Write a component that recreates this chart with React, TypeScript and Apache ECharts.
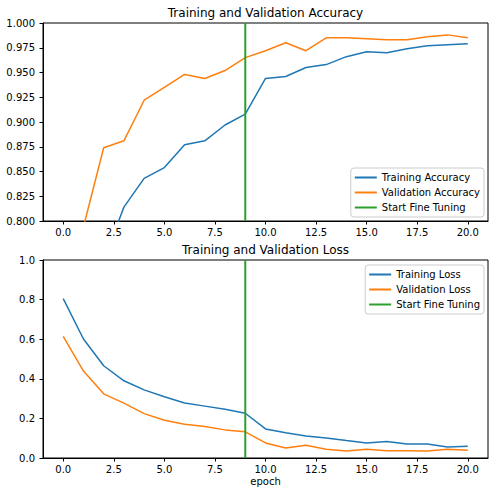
import React, { useEffect, useRef } from "react";
import * as echarts from "echarts";

const epochs = [0, 1, 2, 3, 4, 5, 6, 7, 8, 9, 10, 11, 12, 13, 14, 15, 16, 17, 18, 19, 20];
const trainAcc = [0.6, 0.71, 0.76, 0.814, 0.843, 0.854, 0.877, 0.881, 0.897, 0.908, 0.944, 0.946, 0.955, 0.958, 0.966, 0.971, 0.970, 0.974, 0.977, 0.978, 0.979];
const valAcc = [0.69, 0.794, 0.874, 0.881, 0.922, 0.935, 0.948, 0.944, 0.952, 0.965, 0.972, 0.980, 0.972, 0.985, 0.985, 0.984, 0.983, 0.983, 0.986, 0.988, 0.985];
const trainLoss = [0.805, 0.601, 0.466, 0.39, 0.344, 0.309, 0.278, 0.262, 0.246, 0.226, 0.147, 0.128, 0.111, 0.101, 0.088, 0.076, 0.083, 0.071, 0.071, 0.056, 0.059];
const valLoss = [0.614, 0.439, 0.324, 0.277, 0.224, 0.191, 0.17, 0.159, 0.142, 0.132, 0.076, 0.051, 0.064, 0.044, 0.035, 0.044, 0.037, 0.037, 0.035, 0.044, 0.039];
const fineTuneEpoch = 9;
const accRange = [0.8, 1.0];
const lossRange = [0, 1.0];
const xTicks = [0, 2.5, 5, 7.5, 10, 12.5, 15, 17.5, 20];
const titles = ["Training and Validation Accuracy", "Training and Validation Loss"];
const accNames = ["Training Accuracy", "Validation Accuracy", "Start Fine Tuning"];
const lossNames = ["Training Loss", "Validation Loss", "Start Fine Tuning"];
const xLabel = "epoch";

const FONT = "DejaVu Sans";
const BLUE = "#1f77b4";
const ORANGE = "#ff7f0e";
const GREEN = "#2ca02c";

const pairs = (ys: number[]) => epochs.map((e, i) => [e, ys[i]]);

function xAxisCfg(gridIndex: number) {
  return {
    type: "value",
    gridIndex,
    min: -1,
    max: 21,
    axisLine: { show: true, onZero: false, lineStyle: { color: "#000", width: 1 } },
    axisTick: { show: true, length: 3.5, lineStyle: { color: "#000", width: 1 }, customValues: xTicks },
    axisLabel: {
      customValues: xTicks,
      formatter: (v: number) => v.toFixed(1),
      color: "#000",
      fontSize: 10,
      fontFamily: FONT,
      margin: 6,
    },
    splitLine: { show: false },
  };
}

function yAxisCfg(gridIndex: number, range: number[], interval: number, digits: number) {
  return {
    type: "value",
    gridIndex,
    min: range[0],
    max: range[1],
    interval,
    axisLine: { show: true, onZero: false, lineStyle: { color: "#000", width: 1 } },
    axisTick: { show: true, length: 3.5, lineStyle: { color: "#000", width: 1 } },
    axisLabel: {
      formatter: (v: number) => v.toFixed(digits),
      color: "#000",
      fontSize: 10,
      fontFamily: FONT,
      margin: 8,
    },
    splitLine: { show: false },
  };
}

function lineSeries(name: string, data: number[][], color: string, idx: number, width = 1.5) {
  return {
    type: "line",
    name,
    xAxisIndex: idx,
    yAxisIndex: idx,
    data,
    color,
    symbol: "none",
    clip: true,
    lineStyle: { width, color },
  };
}

function legendCfg(names: string[], top: number) {
  return {
    data: names,
    orient: "vertical",
    right: 12,
    top,
    icon: "rect",
    itemWidth: 22,
    itemHeight: 2,
    itemGap: 0,
    itemTextGap: 8,
    padding: [2, 4, 2, 4],
    backgroundColor: "rgba(255,255,255,0.8)",
    borderColor: "#cccccc",
    borderWidth: 1,
    borderRadius: 3,
    textStyle: { color: "#000", fontSize: 10, fontFamily: FONT, lineHeight: 15 },
    selectedMode: false,
  };
}

export default function App() {
  const ref = useRef<HTMLDivElement>(null);
  useEffect(() => {
    if (!ref.current) return;
    const chart = echarts.init(ref.current, null, { renderer: "svg" });
    chart.setOption({
      animation: false,
      backgroundColor: "#fff",
      grid: [
        { left: 43, top: 23, width: 445, height: 198, show: true, borderColor: "#000", borderWidth: 1 },
        { left: 43, top: 260, width: 445, height: 198, show: true, borderColor: "#000", borderWidth: 1 },
      ],
      xAxis: [xAxisCfg(0), xAxisCfg(1)],
      yAxis: [yAxisCfg(0, accRange, 0.025, 3), yAxisCfg(1, lossRange, 0.2, 1)],
      legend: [legendCfg(accNames, 168), legendCfg(lossNames, 265)],
      series: [
        lineSeries(accNames[0], pairs(trainAcc), BLUE, 0),
        lineSeries(accNames[1], pairs(valAcc), ORANGE, 0),
        lineSeries(accNames[2], [[fineTuneEpoch, accRange[0]], [fineTuneEpoch, accRange[1]]], GREEN, 0, 2),
        lineSeries(lossNames[0], pairs(trainLoss), BLUE, 1),
        lineSeries(lossNames[1], pairs(valLoss), ORANGE, 1),
        lineSeries(lossNames[2], [[fineTuneEpoch, lossRange[0]], [fineTuneEpoch, lossRange[1]]], GREEN, 1, 2),
      ],
      graphic: [
        {
          type: "text",
          x: 265.5,
          y: 12.5,
          style: { text: titles[0], font: `12px '${FONT}'`, fill: "#000", textAlign: "center", textVerticalAlign: "middle" },
        },
        {
          type: "text",
          x: 265.5,
          y: 249.5,
          style: { text: titles[1], font: `12px '${FONT}'`, fill: "#000", textAlign: "center", textVerticalAlign: "middle" },
        },
        {
          type: "text",
          x: 265.5,
          y: 481.5,
          style: { text: xLabel, font: `10px '${FONT}'`, fill: "#000", textAlign: "center", textVerticalAlign: "middle" },
        },
      ],
    });
    return () => chart.dispose();
  }, []);
  return (
    <div
      ref={ref}
      style={{ position: "fixed", left: 0, top: 0, width: 496, height: 496, background: "#fff" }}
    />
  );
}
